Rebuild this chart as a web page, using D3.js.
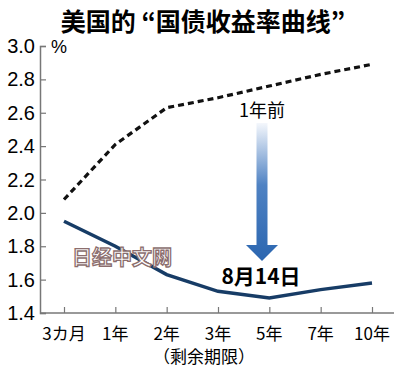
<!DOCTYPE html>
<html>
<head>
<meta charset="utf-8">
<script src="https://cdn.jsdelivr.net/npm/d3@7"></script>
<style>
  body { margin: 0; background: #fff; }
  svg { display: block; }
</style>
</head>
<body>
<div id="chart"></div>
<script>
var categories = ['3カ月', '1年', '2年', '3年', '5年', '7年', '10年'];
var yearAgo = [2.08, 2.41, 2.63, 2.69, 2.76, 2.83, 2.89];
var aug14 = [1.95, 1.80, 1.63, 1.53, 1.49, 1.54, 1.58];
var yTicks = [1.4, 1.6, 1.8, 2.0, 2.2, 2.4, 2.6, 2.8, 3.0];

var width = 400, height = 374;
var numFont = '"Liberation Sans Narrow", "Liberation Sans", Arial, sans-serif';
var cjkFont = '"Noto Sans CJK JP", "Noto Sans CJK SC", sans-serif';

var svg = d3.select('#chart').append('svg')
    .attr('width', width)
    .attr('height', height);

var x = d3.scalePoint().domain(categories).range([64, 372]);
var y = d3.scaleLinear().domain([1.4, 3.0]).range([313, 46]);

// title
svg.append('text')
    .attr('x', 203).attr('y', 31)
    .attr('text-anchor', 'middle')
    .style('font-family', cjkFont)
    .style('font-weight', 'bold')
    .style('font-size', '25px')
    .text('美国的 “国债收益率曲线”');

// y axis
var yAxis = svg.append('g')
    .attr('transform', 'translate(40,0)')
    .call(d3.axisRight(y).tickValues(yTicks).tickSize(6).tickFormat(''));
yAxis.select('.domain').attr('stroke', '#777').attr('stroke-width', 1.5);
yAxis.selectAll('.tick line').attr('stroke', '#777').attr('stroke-width', 1.2);

svg.selectAll('.ylab').data(yTicks).enter().append('text')
    .attr('class', 'ylab')
    .attr('x', 35)
    .attr('y', function(d) { return y(d) + 7; })
    .attr('text-anchor', 'end')
    .style('font-family', numFont)
    .style('font-size', '20px')
    .text(function(d) { return d.toFixed(1); });

svg.append('text')
    .attr('x', 51).attr('y', 53)
    .style('font-family', numFont)
    .style('font-size', '18px')
    .text('%');

// x axis
var xAxis = svg.append('g')
    .attr('transform', 'translate(0,313)')
    .call(d3.axisTop(x).tickSize(6).tickFormat(''));
xAxis.select('.domain').remove();
xAxis.selectAll('.tick line').attr('stroke', '#777').attr('stroke-width', 1.2);
svg.append('line')
    .attr('x1', 40).attr('x2', 394)
    .attr('y1', 313).attr('y2', 313)
    .attr('stroke', '#777').attr('stroke-width', 1.5);

svg.selectAll('.xlab').data(categories).enter().append('text')
    .attr('class', 'xlab')
    .attr('x', function(d) { return x(d); })
    .attr('y', 340)
    .attr('text-anchor', 'middle')
    .style('font-family', cjkFont)
    .style('font-size', '17px')
    .text(function(d) { return d; });

svg.append('text')
    .attr('x', 204).attr('y', 363)
    .attr('text-anchor', 'middle')
    .style('font-family', cjkFont)
    .style('font-size', '17px')
    .text('（剩余期限）');

// lines
var line = d3.line()
    .x(function(d, i) { return x(categories[i]); })
    .y(function(d) { return y(d); });

svg.append('path')
    .datum(yearAgo)
    .attr('d', line)
    .attr('fill', 'none')
    .attr('stroke', '#111')
    .attr('stroke-width', 3.2)
    .attr('stroke-dasharray', '6,4');

svg.append('path')
    .datum(aug14)
    .attr('d', line)
    .attr('fill', 'none')
    .attr('stroke', '#173c66')
    .attr('stroke-width', 3.5);

// arrow with gradient
var grad = svg.append('defs').append('linearGradient')
    .attr('id', 'arrowGrad')
    .attr('x1', 0).attr('y1', 0).attr('x2', 0).attr('y2', 1);
grad.append('stop').attr('offset', '0%').attr('stop-color', '#f4f7fc');
grad.append('stop').attr('offset', '45%').attr('stop-color', '#4f82c3');
grad.append('stop').attr('offset', '100%').attr('stop-color', '#2b66b0');

var ax = 262, shaftTop = 123, headY = 245, tipY = 261, sw = 5.5, hw = 16;
svg.append('path')
    .attr('d', 'M' + (ax - sw) + ',' + shaftTop + 'L' + (ax + sw) + ',' + shaftTop +
        'L' + (ax + sw) + ',' + headY + 'L' + (ax + hw) + ',' + headY +
        'L' + ax + ',' + tipY + 'L' + (ax - hw) + ',' + headY +
        'L' + (ax - sw) + ',' + headY + 'Z')
    .attr('fill', 'url(#arrowGrad)');

svg.append('text')
    .attr('x', 262).attr('y', 117)
    .attr('text-anchor', 'middle')
    .style('font-family', cjkFont)
    .style('font-size', '18px')
    .text('1年前');

svg.append('text')
    .attr('x', 261).attr('y', 284)
    .attr('text-anchor', 'middle')
    .style('font-family', cjkFont)
    .style('font-weight', 'bold')
    .style('font-size', '21px')
    .text('8月14日');

// watermark
svg.append('text')
    .attr('x', 122).attr('y', 265)
    .attr('text-anchor', 'middle')
    .style('font-family', cjkFont)
    .style('font-weight', 'bold')
    .style('font-size', '20px')
    .attr('fill', '#fff')
    .attr('stroke', '#8c6e6e')
    .attr('stroke-width', 1.3)
    .text('日经中文网');
</script>
</body>
</html>
